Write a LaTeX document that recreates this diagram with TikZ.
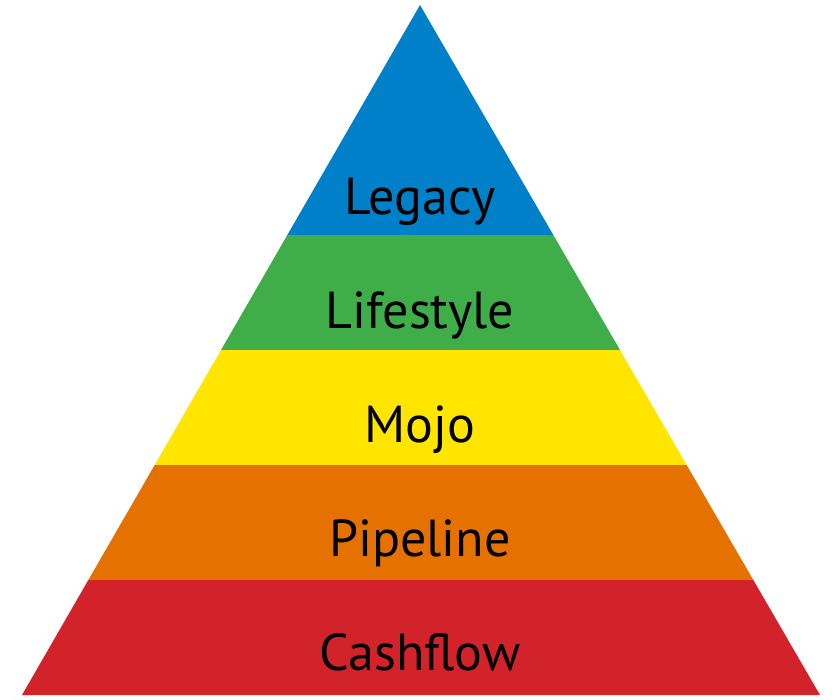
\documentclass[tikz,border=0pt]{standalone}
\usepackage{fontspec}
\setmainfont{PT Sans}
\definecolor{cBlue}{HTML}{0080C8}
\definecolor{cGreen}{HTML}{3FAE49}
\definecolor{cYellow}{HTML}{FFE500}
\definecolor{cOrange}{HTML}{E57200}
\definecolor{cRed}{HTML}{D2232A}
\tikzstyle{L}+=[anchor=base,font=\fontsize{52}{60}\selectfont]
\begin{document}
\begin{tikzpicture}[x=1pt,y=-1pt]
        \useasboundingbox (0,0) rectangle (840,700);
        \begin{scope}
            \clip (420,5) -- (820,695) -- (22,695) -- cycle;
            \fill[cBlue] (0,0) rectangle (840,235);
            \fill[cGreen] (0,235) rectangle (840,350);
            \fill[cYellow] (0,350) rectangle (840,465);
            \fill[cOrange] (0,465) rectangle (840,580);
            \fill[cRed] (0,580) rectangle (840,700);
        \end{scope}
        \node[L] (legacy) at (420,215) {Legacy};
        \node[L] (lifestyle) at (420,328) {Lifestyle};
        \node[L] (mojo) at (420,442) {Mojo};
        \node[L] (pipeline) at (420,556) {Pipeline};
        \node[L] (cashflow) at (420,670) {Cashflow};
    \end{tikzpicture}
\end{document}
